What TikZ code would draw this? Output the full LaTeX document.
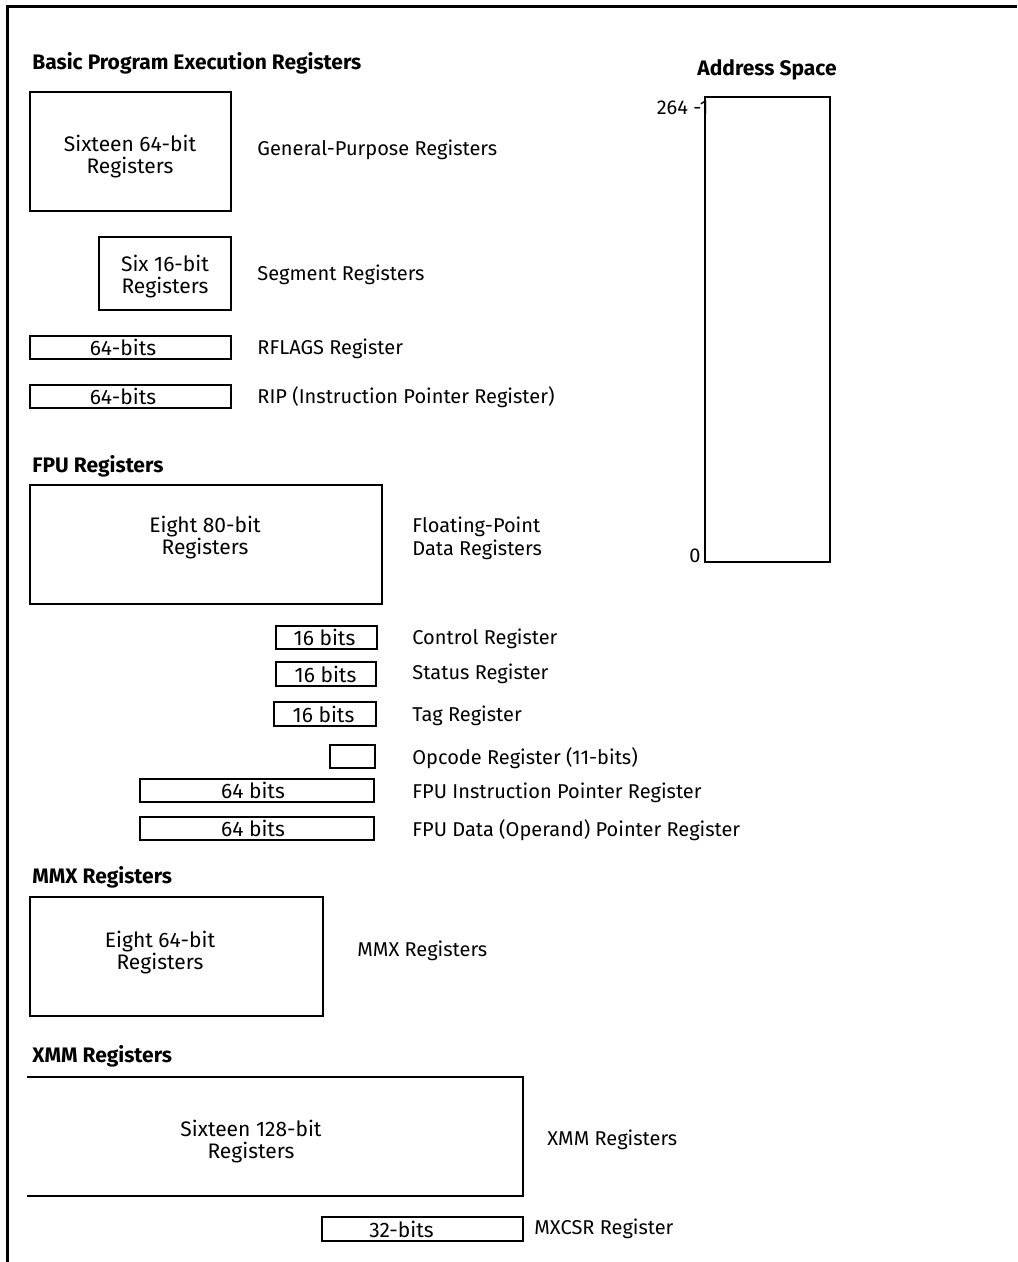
\documentclass[tikz,border=0pt]{standalone}
\usepackage{fontspec}
\setmainfont{Fira Sans}
\usetikzlibrary{positioning}

\newcommand{\regfont}{\fontsize{10.5}{11}\selectfont}
\newcommand{\lblfont}{\fontsize{10}{11.5}\selectfont}
\tikzstyle{reg}=[line width=1.2pt]
\tikzstyle{txt}=[inner sep=0, align=center, font=\regfont]
\tikzstyle{lbl}=[inner sep=0, align=left, font=\lblfont]
\tikzstyle{grp}=[inner sep=0, font=\fontsize{10.5}{12}\selectfont\bfseries]

\begin{document}
\begin{tikzpicture}[x=0.5pt, y=-0.5pt]

\fill [white] (0, 0) rectangle (1017, 1262);
\useasboundingbox (0, 0) rectangle (1017, 1262);
\draw [line width=1.5pt] (7.5, 1262) -- (7.5, 6.5) -- (1017, 6.5);

\node [grp, anchor=base west] (basic) at (32, 69.5) {Basic Program Execution Registers};
\node [grp, anchor=base] (space) at (767, 75.5) {Address Space};

\draw [reg] (30, 92) rectangle (231, 211);
\draw [reg] (99, 237) rectangle (231, 310);
\draw [reg] (30, 336) rectangle (231, 359);
\draw [reg] (30, 385) rectangle (231, 408);
\node [txt] (gpr) at (130, 156.5) {Sixteen 64-bit\\Registers};
\node [txt] (seg) at (165, 276.5) {Six 16-bit\\Registers};
\node [txt] (rflags) at (123, 347.5) {64-bits};
\node [txt] (rip) at (123, 396.5) {64-bits};

\node [lbl, anchor=base west] (gprlbl) at (257, 156) {General-Purpose Registers};
\node [lbl, anchor=base west] (seglbl) at (257, 281) {Segment Registers};
\node [lbl, anchor=base west] (rflagslbl) at (257, 355) {RFLAGS Register};
\node [lbl, anchor=base west] (riplbl) at (257, 403) {RIP (Instruction Pointer Register)};

\draw [reg] (705, 97) rectangle (830, 562);
\node [lbl, anchor=base east] (top) at (709, 115) {264 -1};
\node [lbl, anchor=base east] (bottom) at (701, 562) {0};

\node [grp, anchor=base west] (fpu) at (32, 472.5) {FPU Registers};
\draw [reg] (30, 485) rectangle (382, 604);
\draw [reg] (276, 626) rectangle (377, 649);
\draw [reg] (276, 662) rectangle (376, 686);
\draw [reg] (274, 702) rectangle (376, 726);
\draw [reg] (330, 745) rectangle (375, 768);
\draw [reg] (140, 779) rectangle (374, 802);
\draw [reg] (140, 817) rectangle (374, 840);
\node [txt] (data) at (205, 538) {Eight 80-bit\\Registers};
\node [txt] (control) at (324.5, 637.5) {16 bits};
\node [txt] (status) at (325.5, 674) {16 bits};
\node [txt] (tag) at (323.5, 714) {16 bits};
\node [txt] (fip) at (253, 790.5) {64 bits};
\node [txt] (fdp) at (253, 828.5) {64 bits};

\node [lbl, anchor=west] (datalbl) at (412, 538) {Floating-Point\\Data Registers};
\node [lbl, anchor=base west] (controllbl) at (412, 644) {Control Register};
\node [lbl, anchor=base west] (statuslbl) at (412, 679) {Status Register};
\node [lbl, anchor=base west] (taglbl) at (412, 721) {Tag Register};
\node [lbl, anchor=base west] (opcodelbl) at (412, 764) {Opcode Register (11-bits)};
\node [lbl, anchor=base west] (fiplbl) at (412, 798) {FPU Instruction Pointer Register};
\node [lbl, anchor=base west] (fdplbl) at (412, 836) {FPU Data (Operand) Pointer Register};

\node [grp, anchor=base west] (mmx) at (32, 883.5) {MMX Registers};
\draw [reg] (30, 897) rectangle (323, 1016);
\node [txt] (mm) at (160, 952.5) {Eight 64-bit\\Registers};
\node [lbl, anchor=base west] (mmlbl) at (357, 956) {MMX Registers};

\node [grp, anchor=base west] (xmmhead) at (32, 1062.5) {XMM Registers};
\draw [reg] (27, 1077) -- (523, 1077) -- (523, 1196) -- (27, 1196);
\node [txt] (xmm) at (251, 1141.5) {Sixteen 128-bit\\Registers};
\node [lbl, anchor=base west] (xmmlbl) at (547, 1145) {XMM Registers};
\draw [reg] (322, 1217) rectangle (523, 1241);
\node [txt] (mxcsr) at (401.5, 1229) {32-bits};
\node [lbl, anchor=base west] (mxcsrlbl) at (534, 1234) {MXCSR Register};

\end{tikzpicture}
\end{document}
